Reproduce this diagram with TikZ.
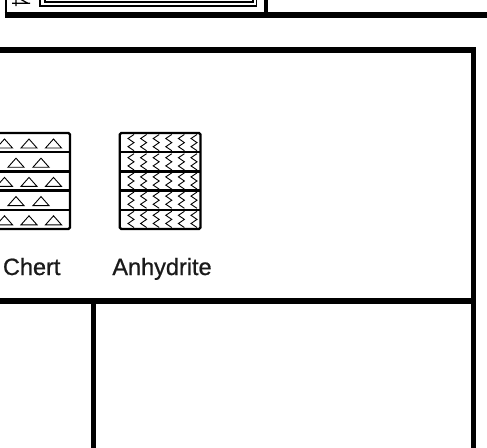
\documentclass[tikz,border=0pt]{standalone}
\usepackage{fontspec}
\setmainfont{Liberation Sans}
\newfontfamily\legendfont[FakeBold=0.8]{Liberation Sans}
\usepackage{xcolor}
\definecolor{inkBlack}{HTML}{000000}
\definecolor{textInk}{HTML}{1A1A1A}

\tikzset{
  frameline/.style={draw=inkBlack,line width=6pt,line join=miter},
  litbox/.style={draw=inkBlack,line width=2.4pt,rounded corners=1.5pt},
  rowline/.style={draw=inkBlack,line width=2.4pt},
  fineline/.style={draw=inkBlack,line width=0.9pt},
  litlabel/.style={anchor=base,inner sep=0pt,text=textInk,font=\legendfont\fontsize{23.5}{28}\selectfont}
}

\begin{document}
\begin{tikzpicture}[x=1pt,y=-1pt]
  \useasboundingbox (0,0) rectangle (487,447);
  \clip (0,0) rectangle (487,447);

  % top panel, cut off at the image edge
  \draw[line width=1.2pt] (40,-10) rectangle (256.5,6);
  \draw[line width=1.2pt] (45,-10) rectangle (253,2);
  \draw[line width=1.2pt] (12,3.3) -- (30,3.3) (16,-1) -- (16,6) (20,-1) -- (28,3.3);
  \draw[frameline,line width=2pt] (5.5,-5) -- (5.5,15);
  \draw[frameline,line width=4pt] (265.5,-5) -- (265.5,15);
  \draw[frameline] (4.5,15.3) -- (492,15.3);

  % legend frame
  \draw[frameline,line width=5.4pt] (-5,50) -- (473.7,50) -- (473.7,452);
  \draw[frameline] (-5,301) -- (473.7,301);
  \draw[frameline,line width=5pt] (93,301) -- (93,452);

  % chert
  \draw[litbox] (-11,133) rectangle (70,229);
  \foreach \i in {1,...,4}
    \draw[rowline] (-11,133+\i*19.2) -- (70,133+\i*19.2);
  \foreach \i in {0,2,4}
    \foreach \cx in {4.5,29,53.5}
      \draw[fineline] (\cx,133+\i*19.2+6) -- (\cx+8,133+\i*19.2+15) -- (\cx-8,133+\i*19.2+15) -- cycle;
  \foreach \i in {1,3}
    \foreach \cx in {16,41}
      \draw[fineline] (\cx,133+\i*19.2+6) -- (\cx+8,133+\i*19.2+15) -- (\cx-8,133+\i*19.2+15) -- cycle;

  % anhydrite
  \draw[litbox] (119.7,133) rectangle (200.5,229);
  \foreach \i in {1,...,4}
    \draw[rowline] (119.7,133+\i*19.2) -- (200.5,133+\i*19.2);
  \foreach \i in {0,...,4}
    \foreach \k in {0,...,5}
      \draw[fineline] (131+\k*12.6+3,133+\i*19.2+1.5) -- (131+\k*12.6-3,133+\i*19.2+5.5)
        -- (131+\k*12.6+3,133+\i*19.2+9.6) -- (131+\k*12.6-3,133+\i*19.2+13.7)
        -- (131+\k*12.6+3,133+\i*19.2+17.7);

  \node[litlabel] (chert) at (31.7,275) {Chert};
  \node[litlabel] (anhydrite) at (162,275) {Anhydrite};
\end{tikzpicture}
\end{document}
